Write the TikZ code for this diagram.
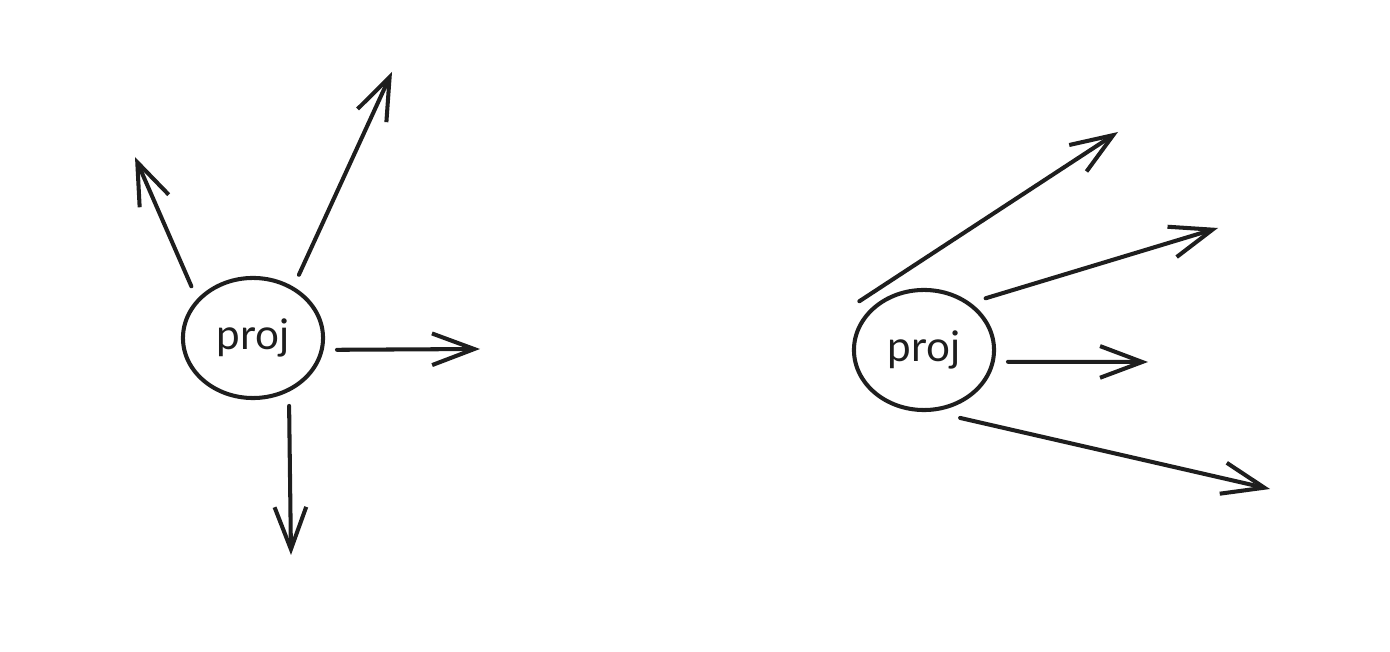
\documentclass[tikz,border=0pt]{standalone}
\usepackage{fontspec}
\setmainfont{Lato}
\usepackage{tikz}
\usetikzlibrary{arrows.meta,shapes.geometric}
\definecolor{ink}{HTML}{1E1E1E}

\begin{document}
\begin{tikzpicture}[x=0.01cm,y=-0.01cm,
  projnode/.style={ellipse,draw=ink,line width=1.15pt,minimum width=1.4cm,minimum height=1.2cm,outer sep=0.15cm,font=\fontsize{12}{14}\selectfont,text=ink},
  ray/.style={-{Straight Barb[length=12pt,width=9pt,line width=1.15pt]},ink,line width=1.15pt,line cap=round}]
\useasboundingbox (0,0) rectangle (1390,652);
% left: projections spread all round
\node[projnode] (projA) at (253,338) {proj};
\coordinate (a1) at (135,157);
\coordinate (a2) at (392,72);
\coordinate (a3) at (480,349);
\coordinate (a4) at (291,555);
\draw[ray] (projA.140) -- (a1);
\draw[ray] (projA.54) -- (a2);
\draw[ray] (projA.-8) -- (a3);
\draw[ray] (projA.-62) -- (a4);
% right: projections fanned to one side
\node[projnode] (projB) at (924,350) {proj};
\coordinate (b1) at (1118,132);
\coordinate (b2) at (1218,228);
\coordinate (b3) at (1148,362);
\coordinate (b4) at (1270,489);
\draw[ray] (projB.143) -- (b1);
\draw[ray] (projB.40) -- (b2);
\draw[ray] (projB.-8) -- (b3);
\draw[ray] (projB.-62) -- (b4);
\end{tikzpicture}
\end{document}
